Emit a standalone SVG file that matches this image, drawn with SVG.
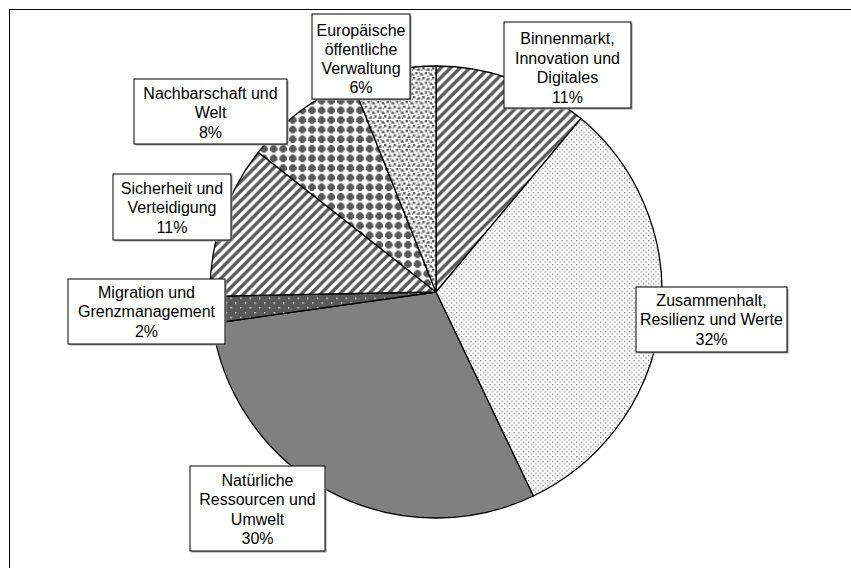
<svg xmlns="http://www.w3.org/2000/svg" width="851" height="568" viewBox="0 0 851 568">
<style>
.sl{stroke:#000;stroke-width:1.3;stroke-linejoin:round}
.box{fill:#fff;stroke:#000;stroke-width:1}
.sh{fill:#9a9a9a}
.t{font-family:"Liberation Sans",Arial,sans-serif;font-size:16px;fill:#000;text-anchor:middle}
</style>
<defs>
<pattern id="stripes" width="9.6" height="9.6" patternUnits="userSpaceOnUse">
<rect width="9.6" height="9.6" fill="#fff"/>
<path d="M-2.4,2.4 L2.4,-2.4 M0,9.6 L9.6,0 M7.2,12 L12,7.2" stroke="#595959" stroke-width="3.4"/>
</pattern>
<pattern id="dots" width="4.8" height="4.8" patternUnits="userSpaceOnUse">
<rect width="4.8" height="4.8" fill="#fff"/>
<rect x="0" y="0" width="1.2" height="1.2" fill="#6a6a6a"/>
<rect x="2.4" y="2.4" width="1.2" height="1.2" fill="#6a6a6a"/>
</pattern>
<pattern id="wdots" width="9.6" height="9.6" patternUnits="userSpaceOnUse">
<rect width="9.6" height="9.6" fill="#595959"/>
<rect x="0" y="0" width="1.3" height="1.3" fill="#fff"/>
<rect x="4.8" y="4.8" width="1.3" height="1.3" fill="#fff"/>
</pattern>
<pattern id="spheres" width="9.6" height="9.6" patternUnits="userSpaceOnUse">
<rect width="9.6" height="9.6" fill="#fff"/>
<path d="M3.6,1 H6 L8.6,3.6 V6 L6,8.6 H3.6 L1,6 V3.6 Z" fill="#595959"/>
</pattern>
<pattern id="confetti" width="9.6" height="9.6" patternUnits="userSpaceOnUse">
<rect width="9.6" height="9.6" fill="#fff"/>
<g fill="#595959">
<rect x="0" y="0" width="2.4" height="2.4"/>
<rect x="4.8" y="1.2" width="2.4" height="2.4"/>
<rect x="2.4" y="4.8" width="2.4" height="2.4"/>
<rect x="7.2" y="6" width="2.4" height="2.4"/>
<rect x="0" y="7.2" width="1.2" height="1.2"/>
<rect x="6" y="4.8" width="1.2" height="1.2"/>
<rect x="3.6" y="2.4" width="1.2" height="1.2"/>
<rect x="8.4" y="2.4" width="1.2" height="1.2"/>
<rect x="4.8" y="8.4" width="1.2" height="1.2"/>
</g>
</pattern>
</defs>
<rect width="851" height="568" fill="#fff"/>
<path d="M9,9.5 H851 M9.5,9 V568" stroke="#000" stroke-width="1" fill="none"/>
<g id="slices">
<g id="slice-binnenmarkt"><path class="sl" fill="url(#stripes)" d="M436,292 L436,66 A226,226 0 0 1 581,118.6 Z"/></g>
<g id="slice-zusammenhalt"><path class="sl" fill="url(#dots)" d="M436,292 L581,118.6 A226,226 0 0 1 533.3,496 Z"/></g>
<g id="slice-natuerliche"><path class="sl" fill="#808080" d="M436,292 L533.3,496 A226,226 0 0 1 212.2,323.5 Z"/></g>
<g id="slice-migration"><path class="sl" fill="url(#wdots)" d="M436,292 L212.2,323.5 A226,226 0 0 1 210,296.3 Z"/></g>
<g id="slice-sicherheit"><path class="sl" fill="url(#stripes)" d="M436,292 L210,296.3 A226,226 0 0 1 258.3,152.2 Z"/></g>
<g id="slice-nachbarschaft"><path class="sl" fill="url(#spheres)" d="M436,292 L258.3,152.2 A226,226 0 0 1 352.1,82.2 Z"/></g>
<g id="slice-europaeische"><path class="sl" fill="url(#confetti)" d="M436,292 L352.1,82.2 A226,226 0 0 1 436,66 Z"/></g>
</g>
<g id="connectors"></g>
<g id="label-europaeische">
<rect class="sh" x="313.5" y="15.5" width="98" height="85"/>
<rect class="box" x="312" y="14" width="98" height="85"/>
<text class="t"><tspan x="361" y="35.5">Europäische</tspan><tspan x="361" y="54.8">öffentliche</tspan><tspan x="361" y="74.1">Verwaltung</tspan><tspan x="361" y="93.4">6%</tspan></text>
</g>
<g id="label-binnenmarkt">
<rect class="sh" x="505.5" y="23.5" width="127" height="86"/>
<rect class="box" x="504" y="22" width="127" height="86"/>
<text class="t"><tspan x="567.5" y="44">Binnenmarkt,</tspan><tspan x="567.5" y="63.5">Innovation und</tspan><tspan x="567.5" y="83">Digitales</tspan><tspan x="567.5" y="102.5">11%</tspan></text>
</g>
<g id="label-nachbarschaft">
<rect class="sh" x="135.5" y="80.5" width="153" height="65"/>
<rect class="box" x="134" y="79" width="153" height="65"/>
<text class="t"><tspan x="210.5" y="98.5">Nachbarschaft und</tspan><tspan x="210.5" y="118">Welt</tspan><tspan x="210.5" y="137.5">8%</tspan></text>
</g>
<g id="label-sicherheit">
<rect class="sh" x="114.5" y="175.5" width="118" height="66"/>
<rect class="box" x="113" y="174" width="118" height="66"/>
<text class="t"><tspan x="172" y="193.5">Sicherheit und</tspan><tspan x="172" y="213">Verteidigung</tspan><tspan x="172" y="232.5">11%</tspan></text>
</g>
<g id="label-migration">
<rect class="sh" x="69.5" y="280.5" width="157" height="65"/>
<rect class="box" x="68" y="279" width="157" height="65"/>
<text class="t"><tspan x="146.5" y="297.5">Migration und</tspan><tspan x="146.5" y="317">Grenzmanagement</tspan><tspan x="146.5" y="336.5">2%</tspan></text>
</g>
<g id="label-zusammenhalt">
<rect class="sh" x="637.5" y="288.5" width="151" height="65"/>
<rect class="box" x="636" y="287" width="151" height="65"/>
<text class="t"><tspan x="711.5" y="305.7">Zusammenhalt,</tspan><tspan x="711.5" y="325.2">Resilienz und Werte</tspan><tspan x="711.5" y="344.7">32%</tspan></text>
</g>
<g id="label-natuerliche">
<rect class="sh" x="191.5" y="467.5" width="135" height="85"/>
<rect class="box" x="190" y="466" width="135" height="85"/>
<text class="t"><tspan x="257.5" y="485.7">Natürliche</tspan><tspan x="257.5" y="505.2">Ressourcen und</tspan><tspan x="257.5" y="524.7">Umwelt</tspan><tspan x="257.5" y="544.2">30%</tspan></text>
</g>
</svg>
